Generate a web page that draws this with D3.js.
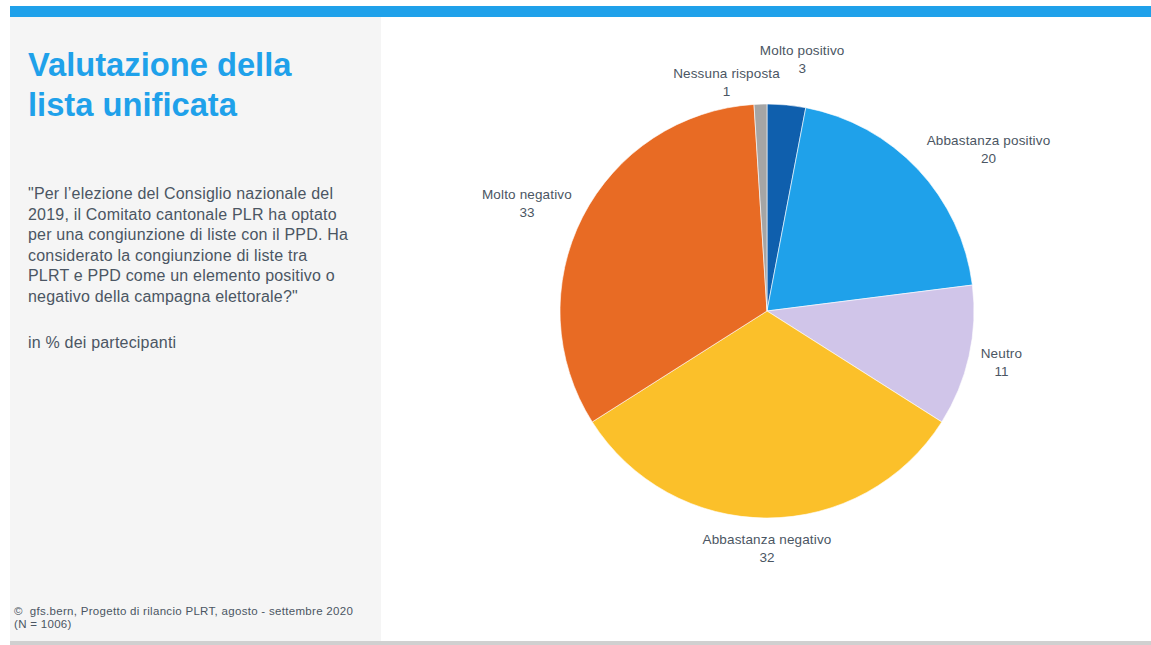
<!DOCTYPE html>
<html>
<head>
<meta charset="utf-8">
<script src="https://cdn.jsdelivr.net/npm/d3@7"></script>
<style>
  html, body { margin: 0; padding: 0; background: #ffffff; }
  svg { display: block; font-family: "Liberation Sans", Arial, sans-serif; }
  .pre { white-space: pre; }
</style>
</head>
<body>
<svg id="chart" width="1151" height="645"></svg>
<script>
// ---- data ----
const categories = ["Molto positivo", "Abbastanza positivo", "Neutro", "Abbastanza negativo", "Molto negativo", "Nessuna risposta"];
const values = [3, 20, 11, 32, 33, 1];
const colors = ["#0F5FAD", "#1FA1EA", "#D0C5E9", "#FBC02A", "#E86B24", "#A5A5A5"];
const titleLines = ["Valutazione della", "lista unificata"];
const questionLines = [
  "\"Per l\u2019elezione del Consiglio nazionale del",
  "2019, il Comitato cantonale PLR ha optato",
  "per una congiunzione di liste con il PPD. Ha",
  "considerato la congiunzione di liste tra",
  "PLRT e PPD come un elemento positivo o",
  "negativo della campagna elettorale?\""
];
const unitText = "in % dei partecipanti";
const sourceLines = ["\u00A9  gfs.bern, Progetto di rilancio PLRT, agosto - settembre 2020", "(N = 1006)"];

// ---- layout ----
const W = 1151, H = 645;
const svg = d3.select("#chart");
const textColor = "#4B5663";

// frame
svg.append("rect").attr("x", 10).attr("y", 6).attr("width", W - 10).attr("height", 11).attr("fill", "#1FA1EA");
svg.append("rect").attr("x", 10).attr("y", 17).attr("width", 371).attr("height", 624).attr("fill", "#F5F5F5");
svg.append("rect").attr("x", 10).attr("y", 641).attr("width", W - 10).attr("height", 4).attr("fill", "#D0D0D0");

// title
svg.append("g").selectAll("text").data(titleLines).join("text")
  .attr("x", 28).attr("y", (d, i) => 76 + i * 40)
  .attr("fill", "#1FA1EA").attr("font-size", 32.7).attr("font-weight", "bold")
  .text(d => d);

// question
svg.append("g").selectAll("text").data(questionLines).join("text")
  .attr("x", 28).attr("y", (d, i) => 199 + i * 20.6)
  .attr("fill", textColor).attr("font-size", 16).attr("letter-spacing", 0.2)
  .text(d => d);
svg.append("text").attr("x", 28).attr("y", 348).attr("fill", textColor)
  .attr("font-size", 16).attr("letter-spacing", 0.2).text(unitText);

// source
svg.append("g").selectAll("text").data(sourceLines).join("text")
  .attr("class", "pre")
  .attr("x", 14).attr("y", (d, i) => 615 + i * 13)
  .attr("fill", textColor).attr("font-size", 11.5).attr("letter-spacing", 0.3)
  .text(d => d);

// ---- pie ----
const cx = 767, cy = 311, R = 207;
const pie = d3.pie().sort(null).value(d => d.value);
const data = categories.map((c, i) => ({ name: c, value: values[i], color: colors[i] }));
const arcs = pie(data);
const arc = d3.arc().innerRadius(0).outerRadius(R);

const g = svg.append("g").attr("transform", `translate(${cx},${cy})`);
g.selectAll("path").data(arcs).join("path")
  .attr("d", arc).attr("fill", d => d.data.color)
  .attr("stroke", "#ffffff").attr("stroke-width", 0.6);

// labels: outside end, box anchored to the point on radius R+gap
const fs = 13.5, lh = 18, gap = 12;
const lblG = g.append("g");
const labels = arcs.map(a => {
  const grp = lblG.append("g");
  const t1 = grp.append("text").attr("text-anchor", "middle").attr("font-size", fs).attr("fill", textColor)
    .attr("letter-spacing", 0.15).text(a.data.name);
  const t2 = grp.append("text").attr("text-anchor", "middle").attr("font-size", fs).attr("fill", textColor)
    .text(a.data.value);
  const w1 = t1.node().getComputedTextLength();
  const w2 = t2.node().getComputedTextLength();
  const theta = (a.startAngle + a.endAngle) / 2;
  const s = Math.sin(theta), c = Math.cos(theta);
  const px = (R + gap) * s, py = -(R + gap) * c;
  const w = Math.max(w1, w2), h = lh * 2;
  const hx = Math.max(-1, Math.min(1, s * 3));
  return { grp, t1, t2, w1, w2, x: px + (w / 2) * hx, y: py - (h / 2) * c, theta };
});

// simple collision resolution between line boxes
const padX = 18;
function lineBoxes(l) {
  return [
    { x0: l.x - l.w1 / 2, x1: l.x + l.w1 / 2, y0: l.y - lh / 2 - 7, y1: l.y - lh / 2 + 7 },
    { x0: l.x - l.w2 / 2, x1: l.x + l.w2 / 2, y0: l.y + lh / 2 - 7, y1: l.y + lh / 2 + 7 }
  ];
}
function overlaps(a, b) {
  const A = lineBoxes(a), B = lineBoxes(b);
  for (const p of A) for (const q of B) {
    if (p.x0 < q.x1 + padX && q.x0 < p.x1 + padX && p.y0 < q.y1 && q.y0 < p.y1) return true;
  }
  return false;
}
for (let i = 0; i < labels.length; i++) {
  for (let j = i + 1; j < labels.length; j++) {
    let a = labels[i], b = labels[j];
    let left = a.x <= b.x ? a : b, right = a.x <= b.x ? b : a;
    let guard = 0;
    while (overlaps(left, right) && guard < 200) {
      left.x -= 1.1; left.y += 0.3;
      right.y -= 0.6; right.x += 0.1;
      guard++;
    }
  }
}

labels.forEach(l => {
  l.t1.attr("x", l.x).attr("y", l.y - lh / 2 + fs * 0.35);
  l.t2.attr("x", l.x).attr("y", l.y + lh / 2 + fs * 0.35);
});
</script>
</body>
</html>
